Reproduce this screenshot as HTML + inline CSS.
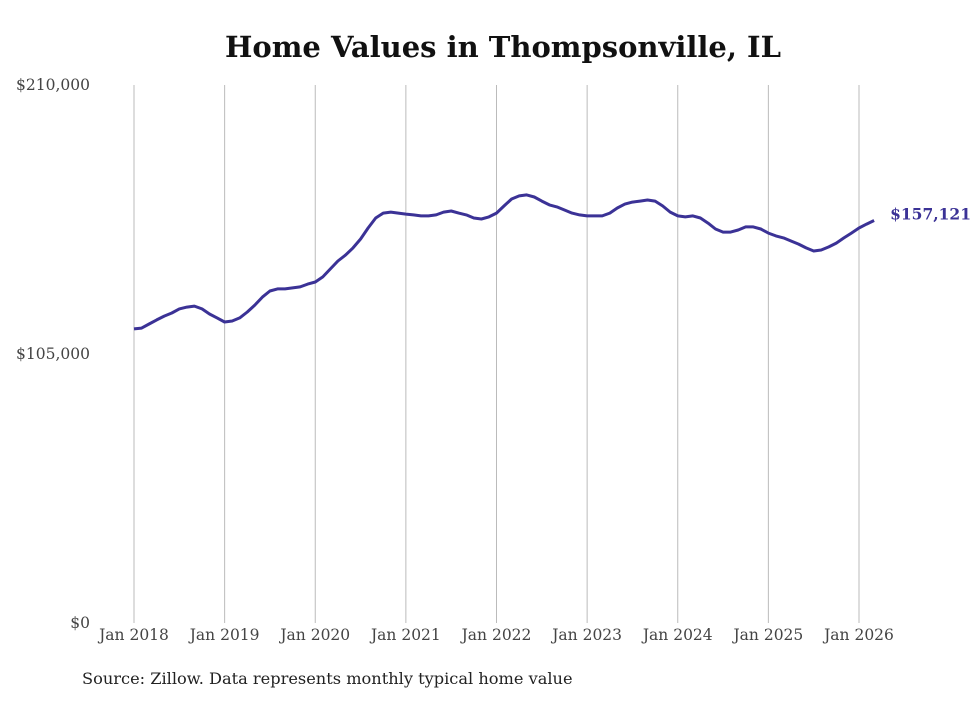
<!DOCTYPE html>
<html><head><meta charset="utf-8"><style>
body{margin:0;background:#fff;}
svg text{font-family:"DejaVu Serif","Liberation Serif",serif;}
</style></head><body>
<svg width="980" height="699">
<text x="503" y="57" text-anchor="middle" font-size="29" font-weight="bold" fill="#111">Home Values in Thompsonville, IL</text>
<g id="grid"></g><g id="yt"></g><g id="xt"></g>
<path id="line" fill="none" stroke="#3b3296" stroke-width="3" stroke-linejoin="round"></path>
<text id="endlabel" font-size="15.5" font-weight="bold" fill="#3b3296"></text>
<text x="82" y="684" font-size="16.2" fill="#222">Source: Zillow. Data represents monthly typical home value</text>
</svg>
<script>
const values=[114800,115100,116700,118300,119800,121000,122600,123300,123700,122600,120600,119100,
117500,117900,119100,121400,124100,127200,129600,130400,130400,130800,131200,132300,
133100,135100,138200,141300,143600,146400,149900,154200,158100,160000,160400,160000,
159600,159300,158900,158900,159300,160400,160800,160000,159300,158100,157700,158500,
160000,162800,165500,166700,167100,166300,164700,163200,162400,161200,160000,159300,
158900,158900,158900,160000,162000,163500,164300,164700,165100,164700,162800,160400,
158900,158500,158900,158100,156100,153800,152600,152600,153400,154600,154600,153800,
152200,151100,150300,149100,147900,146400,145200,145600,146800,148300,150300,152200,
154200,155700,157121];
const yTicks=[0,105000,210000];
const yTickLabels=["$0","$105,000","$210,000"];
const xYears=[2018,2019,2020,2021,2022,2023,2024,2025,2026];
const NS="http://www.w3.org/2000/svg";
const X=m=>134+m*(725/96), Y=v=>623-v*(538/210000);
const grid=document.getElementById('grid'),xt=document.getElementById('xt'),yt=document.getElementById('yt');
xYears.forEach((yr,i)=>{
 const x=X(i*12);
 const l=document.createElementNS(NS,'line');
 l.setAttribute('x1',x);l.setAttribute('x2',x);l.setAttribute('y1',85);l.setAttribute('y2',623);
 l.setAttribute('stroke','#bbb');l.setAttribute('stroke-width','1');
 
 
 grid.appendChild(l);
 const t=document.createElementNS(NS,'text');
 t.setAttribute('x',x);t.setAttribute('y',640);t.setAttribute('text-anchor','middle');
 t.setAttribute('font-size','15.5');t.setAttribute('fill','#444');
 t.textContent='Jan '+yr;
 
 
 xt.appendChild(t);
});
yTicks.forEach((v,i)=>{
 const t=document.createElementNS(NS,'text');
 t.setAttribute('x',90);t.setAttribute('y',Y(v)+5);t.setAttribute('text-anchor','end');
 t.setAttribute('font-size','15.5');t.setAttribute('fill','#444');
 t.textContent=yTickLabels[i];
 
 
 yt.appendChild(t);
});
document.getElementById('line').setAttribute('d',values.map((v,i)=>(i?'L':'M')+X(i).toFixed(1)+','+Y(v).toFixed(1)).join(''));
const last=values.length-1,el=document.getElementById('endlabel');
el.setAttribute('x',X(last)+16);el.setAttribute('y',Y(values[last])-1);
el.textContent='$'+values[last].toLocaleString('en-US');
</script>
</body></html>
